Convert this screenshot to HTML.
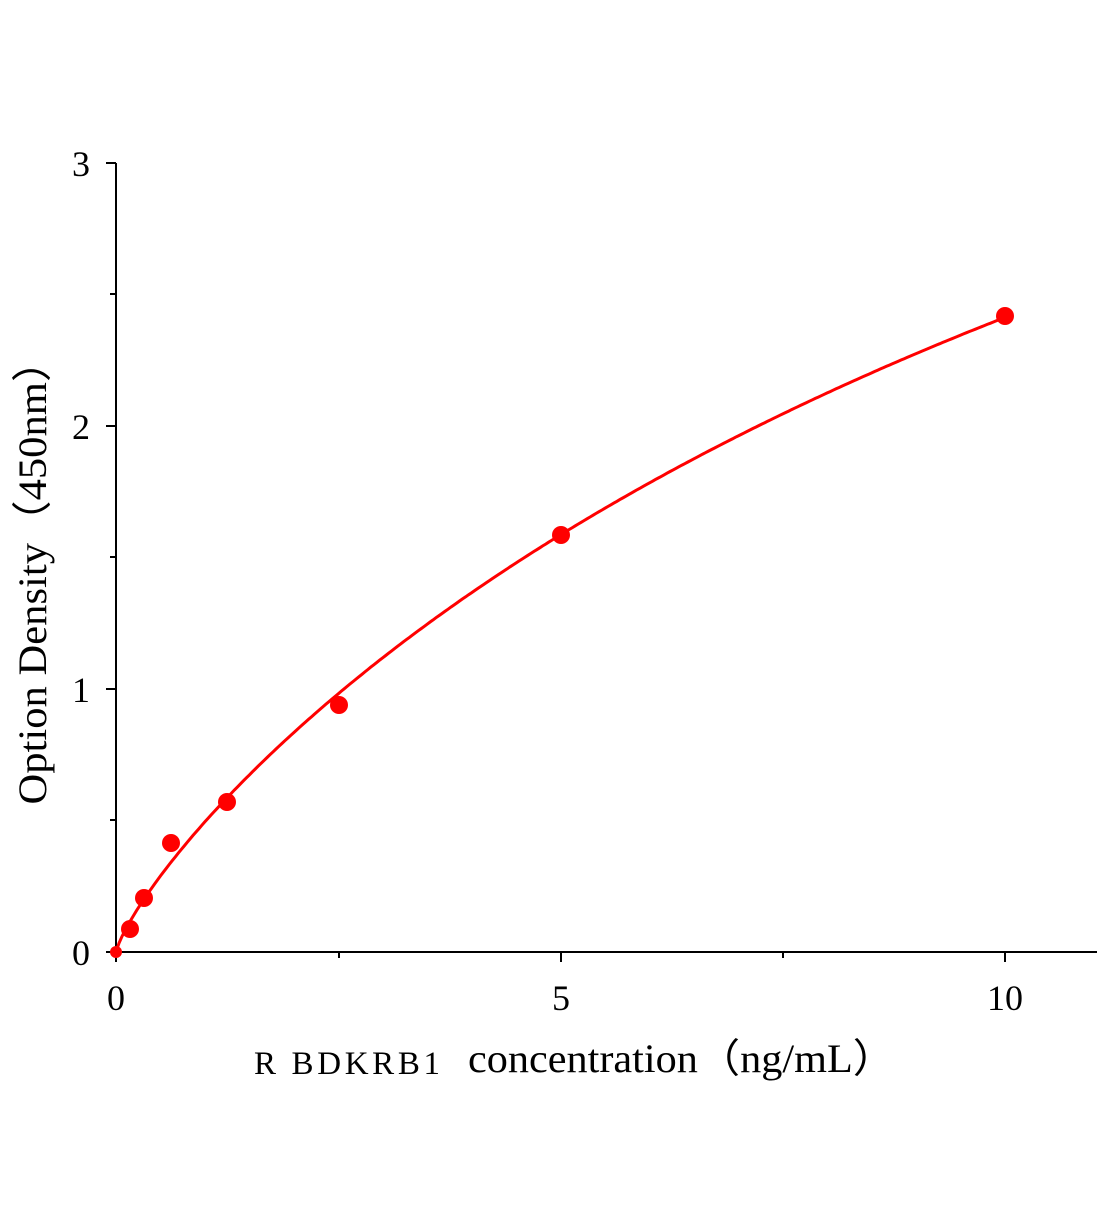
<!DOCTYPE html>
<html><head><style>body{margin:0;background:#fff}</style></head><body>
<svg width="1104" height="1200" xmlns="http://www.w3.org/2000/svg" font-family="Liberation Serif, serif">
<rect width="1104" height="1200" fill="#fff"/>
<g stroke="#000" stroke-width="2" fill="none">
<line x1="116" y1="163" x2="116" y2="953"/>
<line x1="115" y1="952" x2="1097" y2="952"/>
<line x1="106" y1="163" x2="116" y2="163"/>
<line x1="106" y1="426" x2="116" y2="426"/>
<line x1="106" y1="689" x2="116" y2="689"/>
<line x1="106" y1="952" x2="116" y2="952"/>
<line x1="110" y1="294" x2="116" y2="294"/>
<line x1="110" y1="557" x2="116" y2="557"/>
<line x1="110" y1="820" x2="116" y2="820"/>
<line x1="116" y1="952" x2="116" y2="962"/>
<line x1="561" y1="952" x2="561" y2="962"/>
<line x1="1005" y1="952" x2="1005" y2="962"/>
<line x1="339" y1="952" x2="339" y2="958"/>
<line x1="783" y1="952" x2="783" y2="958"/>
</g>
<g font-size="36" fill="#000">
<text x="90" y="176" text-anchor="end">3</text>
<text x="90" y="439" text-anchor="end">2</text>
<text x="90" y="702" text-anchor="end">1</text>
<text x="90" y="965" text-anchor="end">0</text>
<text x="116" y="1010" text-anchor="middle">0</text>
<text x="561" y="1010" text-anchor="middle">5</text>
<text x="1005" y="1010" text-anchor="middle">10</text>
<text x="254" y="1074" font-size="33" textLength="186" lengthAdjust="spacing">R BDKRB1</text>
<text x="468" y="1072" font-size="40" textLength="427" lengthAdjust="spacingAndGlyphs">concentration（ng/mL）</text>
<text transform="translate(46,572) rotate(-90)" text-anchor="middle" font-size="40" textLength="465" lengthAdjust="spacingAndGlyphs">Option Density（450nm）</text>
</g>
<path id="c" stroke="#f00" stroke-width="3" fill="none"/>
<g fill="#f00">
<circle cx="116" cy="952" r="6"/>
<circle cx="130" cy="929" r="9"/>
<circle cx="144" cy="898" r="9"/>
<circle cx="171" cy="843" r="9"/>
<circle cx="227" cy="802" r="9"/>
<circle cx="339" cy="705" r="9"/>
<circle cx="561" cy="535" r="9"/>
<circle cx="1005" cy="316" r="9"/>
</g>
</svg>
<script>
var d="";for(var i=0;i<=300;i++){var x=10*i/300;var y=0.5116*Math.pow(x,0.8)/(1+x/29.6);var X=116+88.9*x,Y=952-263*y;d+=(i?"L":"M")+X.toFixed(1)+","+Y.toFixed(1);}
document.getElementById("c").setAttribute("d",d);
</script>
</body></html>
